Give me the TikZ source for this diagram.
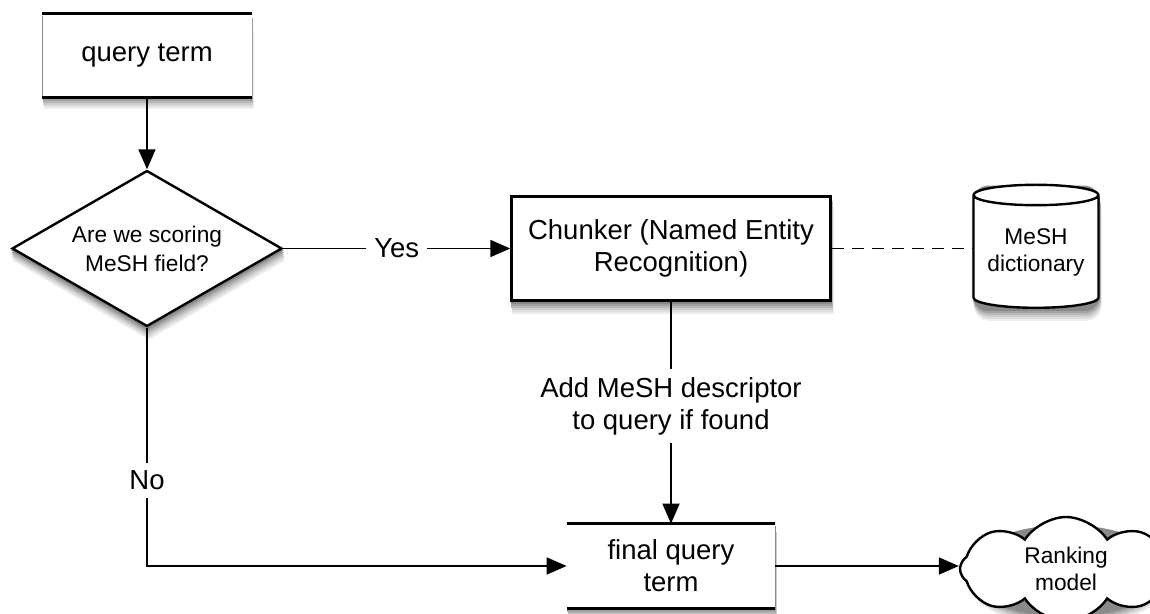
\documentclass[tikz,border=0pt]{standalone}
\usepackage{fontspec}
\setmainfont{Liberation Sans}
\usepackage{tikz}
\usetikzlibrary{shapes.geometric,shapes.symbols,backgrounds,arrows.meta,calc}
\usepackage{xcolor}
\definecolor{inkline}{HTML}{000000}
\definecolor{shade}{HTML}{000000}

\begin{document}
\begin{tikzpicture}[x=0.5pt, y=-0.5pt,
  bigtext/.style={font=\fontsize{13.75}{16}\selectfont, align=center},
  smalltext/.style={font=\fontsize{11.35}{13.5}\selectfont, align=center},
  docbox/.style={bigtext, fill=white, inner sep=0pt},
  procbox/.style={bigtext, draw=inkline, line width=1.2pt, fill=white, inner sep=0pt},
  decision/.style={smalltext, font=\fontsize{11.35}{14.5}\selectfont, diamond, aspect=1.73, draw=inkline, line width=1.2pt, fill=white, inner sep=0pt},
  database/.style={smalltext, cylinder, shape border rotate=90, aspect=0.21, draw=inkline, line width=1.2pt, fill=white, inner sep=0pt},
  cloudbox/.style={smalltext, cloud, cloud puffs=8, cloud puff arc=115, aspect=2, draw=inkline, line width=1.2pt, fill=white, inner sep=0pt},
  boxline/.style={draw=inkline, line width=1.2pt},
  flow/.style={draw=inkline, line width=0.9pt, -{Triangle[length=10pt, width=8.5pt]}},
  link/.style={draw=inkline, line width=0.9pt, dash pattern=on 6pt off 4pt},
  lbl/.style={bigtext, fill=white, inner sep=4pt}]
  \useasboundingbox (0,0) rectangle (1150,614);

  % boxes
  \node[docbox, minimum width=104.5pt, minimum height=41.5pt] (qterm) at (147,55.5) {query term};
  \node[decision, minimum width=135pt, minimum height=78pt] (score) at (147,248.5) {Are we scoring\\MeSH field?};
  \node[procbox, minimum width=159.5pt, minimum height=52pt] (chunk) at (671,248.5) {Chunker (Named Entity\\Recognition)};
  \node[database, minimum width=62.5pt, minimum height=61.5pt] (meshdb) at (1036,252) {MeSH\\dictionary};
  \node[docbox, minimum width=104pt, minimum height=42pt] (final) at (671,566) {final query\\term};
  \node[cloudbox, minimum width=106pt, minimum height=52pt] (rank) at (1066,569) {Ranking\\model};

  % only top and bottom rules on the term boxes
  \foreach \n in {qterm,final} {
    \draw[boxline] (\n.north west) -- (\n.north east);
    \draw[boxline] (\n.south west) -- (\n.south east);
  }

  % soft drop shadows, lightest layer first
  \begin{scope}[on background layer]
    \foreach \dx/\dy/\c in {0.9pt/-6pt/7, 0.75pt/-5pt/13, 0.6pt/-4pt/20,
                            0.45pt/-3pt/28, 0.3pt/-2pt/37, 0.15pt/-1pt/46} {
      \foreach \n in {qterm,chunk,final}
        \fill[shade!\c] ($(\n.north west)+(\dx,\dy)$) rectangle ($(\n.south east)+(\dx,\dy)$);
      \fill[shade!\c] ($(score.north)+(\dx,\dy)$) -- ($(score.east)+(\dx,\dy)$)
        -- ($(score.south)+(\dx,\dy)$) -- ($(score.west)+(\dx,\dy)$) -- cycle;
      \fill[shade!\c, rounded corners=8pt] ($(meshdb.west |- meshdb.north)+(\dx,\dy)$)
        rectangle ($(meshdb.east |- meshdb.south)+(\dx,\dy)$);
      \fill[shade!\c] ($(rank.center)+(\dx,\dy)$) ellipse [x radius=50pt, y radius=23pt];
    }
  \end{scope}

  % connectors
  \draw[flow] (qterm.south) -- (score.north);
  \draw[flow] (score.east) -- node[lbl] {Yes} (chunk.west);
  \draw[link] (chunk.east) -- (chunk.east -| meshdb.west);
  \draw[flow] (chunk.south) -- node[lbl, pos=0.47] {Add MeSH descriptor\\to query if found} (final.north);
  \draw[flow] (score.south) |- node[lbl, pos=0.32] {No} (final.west);
  \draw[flow] (final.east) -- (final.east -| rank.west);
\end{tikzpicture}
\end{document}
